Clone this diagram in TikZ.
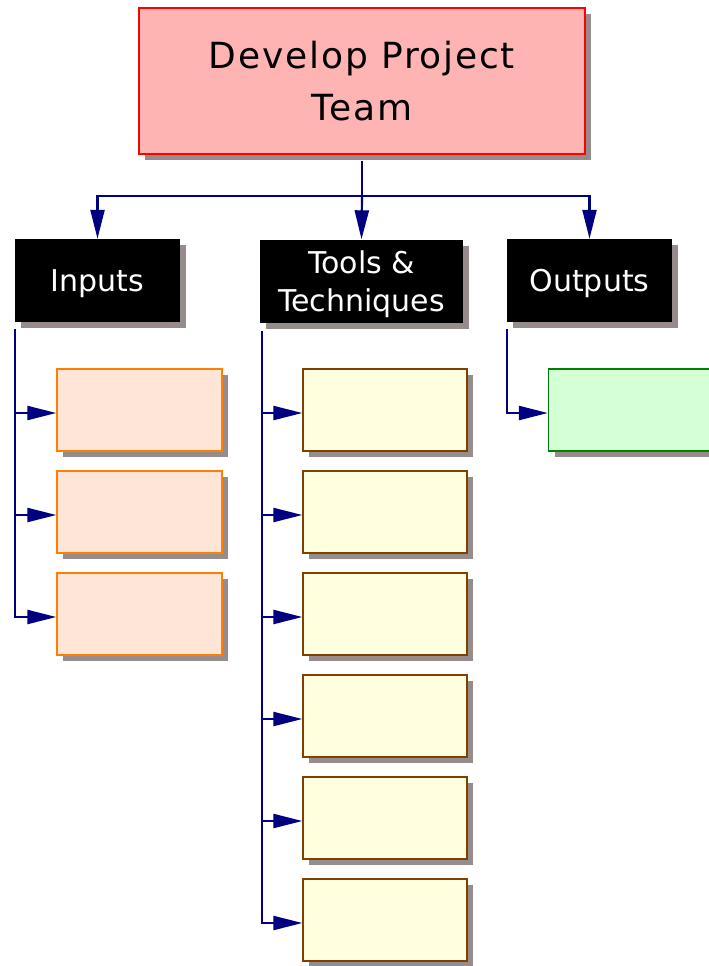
\documentclass[tikz,border=0pt]{standalone}
\usepackage{fontspec}
\setmainfont{DejaVu Sans}
\newfontfamily\topfont{DejaVu Sans}[LetterSpace=5]
\newfontfamily\hdfont{DejaVu Sans}
\usetikzlibrary{arrows.meta,shadows}
\definecolor{navyline}{RGB}{0,0,128}
\definecolor{shadowgray}{RGB}{150,140,140}
\definecolor{topfill}{RGB}{255,180,180}
\definecolor{infill}{RGB}{255,228,216}
\definecolor{inborder}{RGB}{255,128,0}
\definecolor{toolfill}{RGB}{255,255,224}
\definecolor{toolborder}{RGB}{128,64,0}
\definecolor{outfill}{RGB}{213,255,213}
\definecolor{outborder}{RGB}{0,128,0}
\begin{document}
\begin{tikzpicture}[x=1pt,y=-1pt,
  shadowed/.style={general shadow={fill=shadowgray,shadow xshift=6pt,shadow yshift=-6pt}},
  topbox/.style={shadowed,draw=red,fill=topfill,line width=1.5pt,minimum width=446pt,minimum height=146pt,inner sep=0pt,text depth=0pt,align=center,font=\topfont\fontsize{36}{51.7}\selectfont},
  headbox/.style={shadowed,fill=black,text=white,minimum height=83pt,inner sep=0pt,text depth=0pt,align=center,font=\hdfont\fontsize{30}{37.7}\selectfont},
  inbox/.style={shadowed,draw=inborder,fill=infill,line width=1.3pt,minimum width=165pt,minimum height=82pt,inner sep=0pt},
  toolbox/.style={shadowed,draw=toolborder,fill=toolfill,line width=1.3pt,minimum width=164pt,minimum height=82pt,inner sep=0pt},
  outbox/.style={shadowed,draw=outborder,fill=outfill,line width=1.3pt,minimum width=165pt,minimum height=82pt,inner sep=0pt},
  link/.style={draw=navyline,line width=2.2pt},
  arrowlink/.style={link,-{Triangle[length=29pt,width=14pt]}}
]
\useasboundingbox (0,0) rectangle (709,966);

\node[topbox] (top) at (362,81) {Develop Project\\Team};

\node[headbox,minimum width=165pt] (inputs) at (97.5,280.5) {Inputs};
\node[headbox,minimum width=203pt] (tools) at (361.5,281) {Tools \&\\Techniques};
\node[headbox,minimum width=165pt] (outputs) at (589.5,280.5) {Outputs};

\foreach \i/\y in {1/410,2/512,3/614}{
  \node[inbox] (in\i) at (139.5,\y) {};
}
\foreach \i/\y in {1/410,2/512,3/614,4/716,5/818,6/920}{
  \node[toolbox] (tl\i) at (385,\y) {};
}
\node[outbox] (out1) at (631,410) {};

\coordinate (tp) at (362,161);
\coordinate (hub) at (362,196);
\draw[link] (tp) -- (hub);
\draw[arrowlink] (hub) -| (inputs.north);
\draw[arrowlink] (hub) -- (tools.north);
\draw[arrowlink] (hub) -| (outputs.north);

\coordinate (itrunk) at (15,329);
\foreach \i in {1,2,3}{
  \draw[arrowlink] (itrunk) |- ([yshift=-3pt]in\i.west);
}
\coordinate (ttrunk) at (262,331);
\foreach \i in {1,...,6}{
  \draw[arrowlink] (ttrunk) |- ([yshift=-3pt]tl\i.west);
}
\coordinate (otrunk) at (507,329);
\draw[arrowlink] (otrunk) |- ([yshift=-3pt]out1.west);
\end{tikzpicture}
\end{document}
